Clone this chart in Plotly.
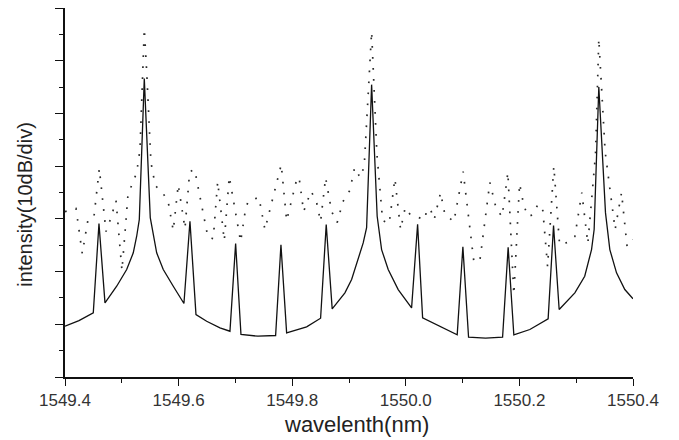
import plotly.graph_objects as go

# Solid (simulated) spectrum: wavelength (nm), intensity (dB)
sim_wl = [1549.400, 1549.4246, 1549.4498, 1549.4598, 1549.4704, 1549.491, 1549.5086, 1549.5202,
          1549.5262, 1549.5308, 1549.5396, 1549.5501, 1549.5614, 1549.573, 1549.5906, 1549.6094,
          1549.620, 1549.6306, 1549.6494, 1549.6728, 1549.6904, 1549.7004, 1549.7098, 1549.7397,
          1549.7708, 1549.7802, 1549.7902, 1549.8254, 1549.850, 1549.8599, 1549.8704, 1549.8928,
          1549.9046, 1549.9162, 1549.925, 1549.931, 1549.9398, 1549.9496, 1549.9574, 1549.969,
          1549.9866, 1550.0102, 1550.0208, 1550.0296, 1550.060, 1550.0905, 1550.1005, 1550.1105,
          1550.1404, 1550.1704, 1550.1802, 1550.1902, 1550.2184, 1550.2506, 1550.2601, 1550.270,
          1550.2976, 1550.315, 1550.327, 1550.3316, 1550.3398, 1550.3516, 1550.3592, 1550.371,
          1550.3856, 1550.400]
sim_db = [9.63, 10.71, 12.17, 29.10, 14.07, 17.22, 20.38, 23.55,
          26.70, 29.86, 56.60, 30.24, 23.55, 20.38, 17.22, 13.94,
          29.54, 11.85, 10.58, 9.33, 8.68, 25.31, 8.06, 7.74,
          7.87, 25.07, 8.38, 9.52, 11.15, 28.91, 12.93, 15.96,
          18.49, 22.28, 25.44, 28.35, 55.46, 30.49, 24.17, 20.38,
          16.59, 13.12, 28.97, 11.22, 9.63, 8.00, 24.69, 7.55,
          7.36, 7.55, 24.61, 8.00, 9.01, 11.03, 28.72, 12.80,
          15.96, 19.11, 24.17, 27.97, 55.02, 31.13, 24.17, 19.76,
          16.59, 14.83]

# Dotted (measured) spectrum: wavelength (nm), intensity (dB)
meas_wl = [1549.400, 1549.4194, 1549.4304, 1549.4405, 1549.451, 1549.4604, 1549.4722, 1549.4804,
           1549.4898, 1549.5003, 1549.5109, 1549.5262, 1549.532, 1549.5396, 1549.5438, 1549.5514,
           1549.5589, 1549.5702, 1549.5813, 1549.5906, 1549.5994, 1549.6112, 1549.6195, 1549.6283,
           1549.6517, 1549.661, 1549.6688, 1549.6804, 1549.6892, 1549.7092, 1549.718, 1549.7226,
           1549.7414, 1549.752, 1549.7807, 1549.7902, 1549.8088, 1549.8124, 1549.8201, 1549.833,
           1549.8423, 1549.850, 1549.8588, 1549.8694, 1549.8792, 1549.8893, 1549.9016, 1549.9099,
           1549.9197, 1549.9268, 1549.9398, 1549.9491, 1549.9592, 1549.9708, 1549.9808, 1549.9908,
           1549.9989, 1550.0077, 1550.0331, 1550.0376, 1550.0442, 1550.050, 1550.0612, 1550.0688,
           1550.0846, 1550.101, 1550.1198, 1550.1304, 1550.148, 1550.1591, 1550.1696, 1550.1797,
           1550.1902, 1550.2003, 1550.2078, 1550.2154, 1550.2242, 1550.233, 1550.2413, 1550.2496,
           1550.2606, 1550.2707, 1550.2841, 1550.2976, 1550.3099, 1550.3205, 1550.334, 1550.3398,
           1550.3509, 1550.3685, 1550.3798, 1550.3896, 1550.3997]
meas_db = [31.38, 31.95, 23.42, 29.86, 30.43, 39.53, 27.59, 30.05,
           33.46, 20.19, 34.60, 38.77, 43.13, 66.08, 57.92, 40.67,
           36.31, 35.17, 33.46, 27.78, 36.50, 28.16, 38.96, 39.34,
           26.45, 26.26, 37.07, 25.88, 38.01, 25.69, 31.95, 33.33,
           34.09, 27.97, 40.29, 29.67, 37.88, 37.64, 31.38, 35.23,
           33.46, 29.48, 37.83, 31.38, 29.29, 33.27, 35.42, 39.72,
           37.83, 39.97, 65.51, 42.38, 29.67, 29.10, 37.64, 27.97,
           32.14, 30.81, 29.86, 31.95, 31.57, 29.86, 34.98, 30.81,
           29.48, 38.96, 21.90, 22.09, 36.93, 31.95, 30.43, 38.83,
           15.64, 36.69, 32.52, 30.43, 30.81, 32.84, 31.57, 20.95,
           39.97, 25.12, 25.50, 26.64, 34.98, 25.31, 42.24, 64.18,
           42.81, 27.97, 34.98, 24.74, 26.07]

x_ticks = [1549.4, 1549.6, 1549.8, 1550.0, 1550.2, 1550.4]
x_tick_text = ["1549.4", "1549.6", "1549.8", "1550.0", "1550.2", "1550.4"]

fig = go.Figure()
fig.add_trace(go.Scatter(x=meas_wl, y=meas_db, mode="lines",
                         line=dict(color="#2a2a2a", width=1.7, dash="1.7px,9.3px"),
                         showlegend=False))
fig.add_trace(go.Scatter(x=sim_wl, y=sim_db, mode="lines",
                         line=dict(color="#111111", width=1.3),
                         showlegend=False))

font_family = "Liberation Sans, Arial, sans-serif"
fig.update_layout(
    width=679, height=440,
    margin=dict(l=57, r=54, t=0, b=71),
    paper_bgcolor="white", plot_bgcolor="white",
    font=dict(family=font_family, color="#222222"),
    xaxis=dict(range=[1549.4, 1550.4], tickvals=x_ticks, ticktext=x_tick_text,
               showgrid=False, zeroline=False, showline=True, linecolor="#111111",
               linewidth=1.5, ticks="outside", ticklen=7, tickwidth=1.3,
               tickcolor="#111111", tickfont=dict(size=17, color="#333333"),
               minor=dict(dtick=0.1, tick0=1549.4, ticks="outside", ticklen=4,
                          tickwidth=1.2, tickcolor="#111111", showgrid=False)),
    yaxis=dict(range=[0, 70], dtick=10, tick0=0, showticklabels=False,
               showgrid=False, zeroline=False, showline=True, linecolor="#111111",
               linewidth=1.5, ticks="outside", ticklen=8, tickwidth=1.3,
               tickcolor="#111111",
               minor=dict(dtick=5, tick0=0, ticks="outside", ticklen=4,
                          tickwidth=1.2, tickcolor="#111111", showgrid=False)),
    annotations=[
        dict(text="wavelenth(nm)", xref="paper", yref="paper", x=0.514, y=-0.129,
             xanchor="center", yanchor="middle", showarrow=False,
             font=dict(size=22, color="#222222", family=font_family)),
        dict(text="intensity(10dB/div)", xref="paper", yref="paper", x=-0.0704, y=0.467,
             xanchor="center", yanchor="middle", showarrow=False, textangle=-90,
             font=dict(size=20, color="#222222", family=font_family)),
    ],
)

fig.write_html("out.html")
